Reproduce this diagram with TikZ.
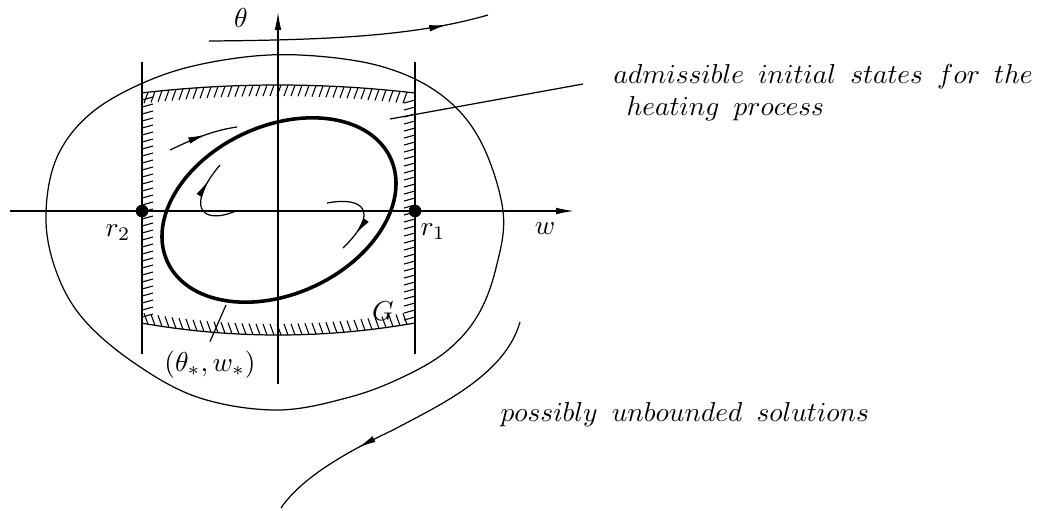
\documentclass[tikz,border=0pt]{standalone}
\usepackage{tikz}
\usetikzlibrary{positioning, arrows.meta, decorations.markings}
\newcommand{\wsp}{\hspace{5.2pt}}

\begin{document}
\begin{tikzpicture}[x=0.365pt, y=0.365pt, line width=0.45pt,
    axis/.style={-{Latex[length=6.5pt, width=2.4pt]}},
    orbit/.style={line width=1.3pt},
    hatch/.style={line width=0.4pt},
    dot/.style={circle, fill, inner sep=0pt, minimum size=4.6pt},
    caption/.style={anchor=base west, inner sep=0pt},
    flowarrow/.style={postaction={decorate}, decoration={markings,
      mark=at position #1 with {\arrow{Latex[length=6.5pt, width=2.4pt]}}}}]
  \useasboundingbox (0,0) rectangle (1037,-510);

  % axes
  \coordinate (wstart) at (10,-211);
  \coordinate (wend) at (574,-211);
  \coordinate (tstart) at (278,-384);
  \coordinate (tend) at (278,-12);
  \draw[axis] (wstart) -- (wend);
  \draw[axis] (tstart) -- (tend);
  \node (theta) at (241,-18) {$\theta$};
  \node (w) at (545,-229) {$w$};

  % outer region
  \draw plot[smooth cycle, tension=0.6] coordinates {(46,-212) (58,-155)
    (95,-110) (160,-76) (230,-59) (300,-55) (380,-66) (440,-94)
    (480,-140) (503,-211) (496,-268) (478,-315) (448,-350)
    (405,-376) (350,-397) (277,-410) (197,-397) (130,-360) (80,-315)
    (54,-265)};

  % the set G
  \coordinate (r2top) at (142,-62);
  \coordinate (r2bot) at (142,-354);
  \coordinate (r1top) at (415,-62);
  \coordinate (r1bot) at (415,-354);
  \draw (r2top) -- (r2bot);
  \draw (r1top) -- (r1bot);
  \draw plot[domain=142:415, samples=40]
    (\x, {-85-8*((\x-278)/137)*((\x-278)/137)});
  \draw plot[domain=142:415, samples=40]
    (\x, {-335+12*((\x-278)/137)*((\x-278)/137)});
  \foreach \x in {148,155,...,413}
    \draw[hatch] (\x, {-85-8*((\x-278)/137)*((\x-278)/137)}) -- ++(-4,-11);
  \foreach \x in {148,155,...,413}
    \draw[hatch] (\x, {-335+12*((\x-278)/137)*((\x-278)/137)}) -- ++(-4,11);
  \foreach \y in {100,107,...,318} {
    \draw[hatch] (142,-\y) -- ++(11,3);
    \draw[hatch] (415,-\y) -- ++(-11,-3);
  }
  \node (G) at (383,-311) {$G$};

  % end points r_1, r_2
  \node[dot] (r2) at (142,-211) {};
  \node[dot] (r1) at (415,-211) {};
  \node (r2lab) at (118,-233) {$r_2$};
  \node (r1lab) at (433,-232) {$r_1$};

  % closed orbit
  \draw[orbit, rotate around={25:(279,-210)}] (279,-210) ellipse [x radius=123, y radius=84];
  \coordinate (starfoot) at (226,-305);
  \node (star) at (210,-365) {$(\theta_*, w_*)$};
  \draw (starfoot) -- (star.north);

  % flow inside G
  \draw[flowarrow=0.55] (170,-150) .. controls (195,-138) and (215,-130) .. (237,-127);
  \draw[flowarrow=0.78] (236,-211) .. controls (200,-226) and (186,-205) .. (220,-165);
  \draw[flowarrow=0.78] (327,-203) .. controls (364,-196) and (380,-212) .. (343,-248);

  % flow outside
  \draw[flowarrow=0.85] (209,-41) .. controls (330,-40) and (415,-36) .. (488,-15);
  \draw[flowarrow=0.68] (520,-322) .. controls (505,-375) and (440,-405) .. (393,-430)
    .. controls (340,-455) and (300,-480) .. (281,-508);

  % labels
  \coordinate (inG) at (390,-119);
  \coordinate (admtip) at (583,-84);
  \draw (inG) -- (admtip);
  \node[caption] (adm) at (613,-83)
    {$admissible\wsp initial\wsp states\wsp for\wsp the$};
  \node[caption] (heat) at (626,-115) {$heating\wsp process$};
  \node[caption] (unb) at (500,-421)
    {$possibly\wsp unbounded\wsp solutions$};
\end{tikzpicture}
\end{document}
